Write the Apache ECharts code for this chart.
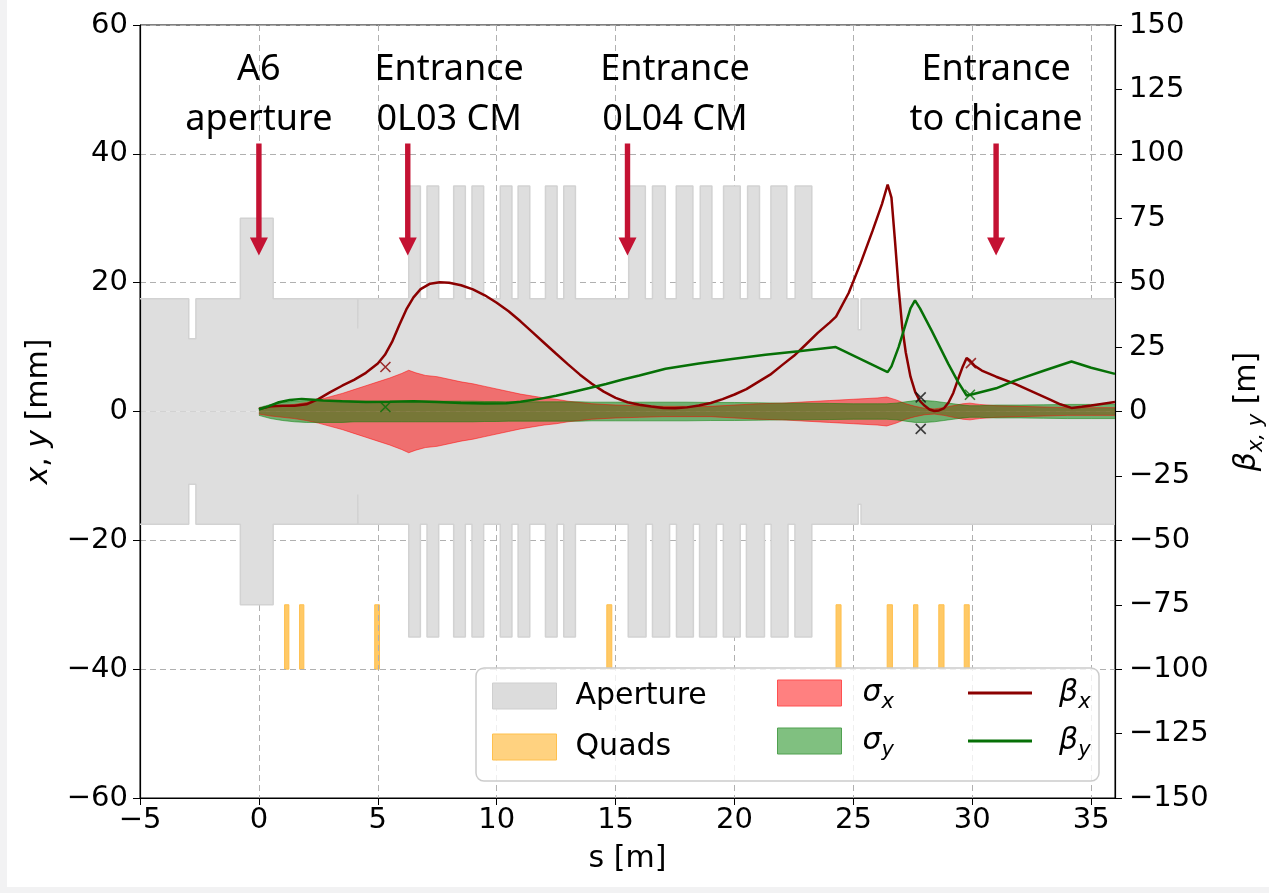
<!DOCTYPE html>
<html lang="en">
<head>
<meta charset="UTF-8">
<title>Aperture, beam size and beta functions</title>
<script src="https://cdn.jsdelivr.net/npm/echarts@6/dist/echarts.min.js"></script>
<style>
  html, body { margin: 0; padding: 0; background: #fff; }
  #main {
    width: 1269px; height: 893px;
    background: linear-gradient(to right, #f2f2f3 7px, transparent 7px),
                linear-gradient(to top, #f2f2f3 6px, #fff 6px);
  }
</style>
</head>
<body>
<div id="main"></div>
<script>
// ---- aperture profile (mm) ----
var apBase = 17.5;
var a6Span = [-0.78, 0.60];
var a6R = 30;
var cavR = 35;
var cm1Cells = [[6.30,6.79],[7.07,7.56],[8.19,8.68],[8.96,9.45],[10.15,10.64],[10.90,11.39],[12.05,12.54],[12.82,13.31]];
var cm2CellsTop = [[15.55,16.25],[16.55,17.09],[17.55,18.25],[18.56,19.05],[19.54,20.24],[20.55,21.05],[21.53,22.20],[22.55,23.25]];
var cm2CellsBot = [[15.53,16.28],[16.55,17.27],[17.56,18.27],[18.53,19.24],[19.53,20.24],[20.50,21.26],[21.54,22.25],[22.54,23.25]];
var notchSpans = [[-2.95,-2.65],[4.155,4.165],[25.20,25.32]];
var notchTop = [11.3, 12.9, 12.7];
var notchBot = [11.3, 12.9, 14.4];

// ---- quadrupoles ----
var quadSpans = [[1.08,1.26],[1.71,1.89],[4.87,5.07],[14.63,14.84],[24.27,24.48],[26.42,26.64],[27.53,27.71],[28.59,28.81],[29.66,29.87]];
var quadHi = -30, quadLo = -40;

// ---- beam sizes (mm) ----
var sigS = [0,0.5,1.0,1.5,2.0,2.5,3.0,3.5,4.0,4.5,5.0,5.5,6.0,6.3,6.6,7.0,7.5,8.0,8.5,9.0,9.5,10.0,10.5,11.0,11.5,12.0,12.5,13.0,13.5,14.0,15.0,16.0,17.0,18.0,19.0,20.0,21.0,22.0,23.0,24.0,25.0,26.0,26.4,26.8,27.2,27.6,28.0,28.4,28.8,29.2,29.6,29.9,30.3,31,32,33,34,35,36];
var sigX = [0.4,0.7,0.9,1.1,1.4,1.8,2.3,2.8,3.4,4.0,4.6,5.2,5.9,6.4,6.0,5.6,5.4,5.0,4.6,4.3,3.9,3.5,3.1,2.7,2.4,2.1,1.9,1.6,1.4,1.2,1.0,0.9,0.8,0.8,0.8,1.0,1.2,1.3,1.5,1.7,1.9,2.1,2.25,1.8,1.2,0.8,0.5,0.4,0.6,0.9,1.2,1.3,1.1,0.9,0.8,0.7,0.6,0.6,0.6];
var sigY = [0.6,1.1,1.4,1.6,1.7,1.7,1.7,1.7,1.6,1.6,1.6,1.6,1.6,1.6,1.6,1.6,1.6,1.6,1.6,1.6,1.55,1.55,1.5,1.5,1.5,1.5,1.5,1.5,1.5,1.45,1.45,1.45,1.45,1.45,1.4,1.4,1.35,1.3,1.3,1.25,1.2,1.2,1.2,1.3,1.5,1.7,1.7,1.6,1.4,1.2,1.0,0.9,0.9,1.0,1.0,1.05,1.1,1.1,1.1];

// ---- beta functions (m) ----
var betaXS = [0,0.5,1.0,1.5,2.0,2.5,3.0,3.5,4.0,4.5,5.0,5.3,5.6,5.9,6.2,6.5,6.8,7.2,7.6,8.0,8.5,9.0,9.5,10.0,10.5,11.0,11.5,12.0,12.5,13.0,13.5,14.0,14.5,15.0,15.5,16.0,16.5,17.0,17.5,18.0,18.5,19.0,19.5,20.0,20.5,21.0,21.5,22.0,22.5,23.0,23.5,24.0,24.27,24.8,25.3,25.8,26.2,26.44,26.6,26.75,26.9,27.05,27.2,27.4,27.6,27.8,28.0,28.2,28.4,28.6,28.8,29.0,29.2,29.4,29.6,29.76,29.9,30.1,30.4,31.0,31.8,32.5,33.2,33.7,34.17,34.6,35.0,35.5,36.0];
var betaX = [1.0,2.0,2.2,2.2,2.8,4.8,7.5,10.0,12.3,15.0,18.6,22.0,27.0,33.5,39.6,44.3,47.5,49.6,50.2,50.0,49.0,47.4,45.1,42.2,38.9,35.0,30.8,26.6,22.4,18.3,14.3,10.8,7.7,5.3,3.6,2.6,1.9,1.4,1.3,1.6,2.3,3.3,4.8,6.6,8.7,11.5,14.3,18.0,21.6,26.0,30.5,34.5,36.8,46.0,57.5,70.0,80.5,88.1,83.0,66.0,48.0,33.0,23.0,13.5,7.5,4.0,2.2,0.8,0.2,0.4,1.2,3.5,7.2,12.5,17.5,20.8,19.8,17.7,15.9,13.5,10.7,7.8,4.9,2.8,1.4,1.8,2.3,3.0,3.7];
var betaYS = [0,0.4,0.84,1.3,1.8,2.3,2.7,3.5,4.5,5.5,6.5,7.5,8.5,9.5,10.4,11.0,11.8,12.5,13.2,13.9,14.6,15.3,16.0,17.1,18.5,19.9,21.3,22.7,24.26,26.44,26.6,26.9,27.2,27.4,27.59,27.8,28.29,28.99,29.4,29.76,29.97,31.0,31.79,33.0,34.17,35.0,36.0];
var betaY = [0.8,2.0,3.6,4.5,4.9,4.6,4.3,4.0,3.7,3.8,4.0,3.7,3.3,3.1,3.2,3.8,4.9,6.1,7.6,9.1,10.7,12.4,14.0,16.6,18.6,20.4,22.0,23.4,25.0,15.3,17.5,25.0,34.0,40.0,43.1,40.0,31.4,18.5,11.5,6.2,6.6,9.0,12.0,15.8,19.4,17.0,14.6];

// ---- measured points (mm) ----
var markRed = [[5.32, 6.9], [29.94, 7.5]];
var markGreen = [[5.32, 0.7], [29.90, 2.6]];
var markBlack = [[27.83, 2.2], [27.83, -2.7]];

// ---- annotations ----
var annotS = [0, 6.26, 15.5, 31.0];
var annotTextS = [0, 8.0, 17.5, 31.0];
var annotLine1 = ['A6', 'Entrance', 'Entrance', 'Entrance'];
var annotLine2 = ['aperture', '0L03 CM', '0L04 CM', 'to chicane'];
var arrowTipY = 24.2, arrowTailY = 41.6, textY1 = 53.1, textY2 = 45.3;

var sMin = -5, sMax = 36, sStep = 5;
var yMin = -60, yMax = 60, yStep = 20;
var bMin = -150, bMax = 150, bStep = 25;

function segs(cm2, notchR) {
  var list = [[a6Span[0], a6Span[1], a6R]];
  cm1Cells.concat(cm2).forEach(function (c) { list.push([c[0], c[1], cavR]); });
  notchSpans.forEach(function (n, i) { list.push([n[0], n[1], notchR[i]]); });
  list.sort(function (a, b) { return a[0] - b[0]; });
  return list;
}
function profile(list, sign) {
  var pts = [[sMin, sign * apBase]];
  list.forEach(function (g) {
    pts.push([g[0], sign * apBase], [g[0], sign * g[2]], [g[1], sign * g[2]], [g[1], sign * apBase]);
  });
  pts.push([sMax, sign * apBase]);
  return pts;
}
function band(xs, ys, sign) {
  return xs.map(function (s, i) { return [s, sign * ys[i]]; });
}
function pairs(xs, ys) {
  return xs.map(function (s, i) { return [s, ys[i]]; });
}
function minus(v) { return String(v).replace('-', '\u2212'); }

var apTop = profile(segs(cm2CellsTop, notchTop), 1);
var apBot = profile(segs(cm2CellsBot, notchBot), -1);

var chart = echarts.init(document.getElementById('main'));
var font = 'DejaVu Sans';
var gridLine = { show: true, lineStyle: { color: '#b0b0b0', width: 1, type: [6, 4] } };
var tickLbl = { color: '#000', fontFamily: font, fontSize: 29, formatter: minus };

var apArea = { color: '#dedede', opacity: 1, origin: 0 };
var apLine = { color: '#d2d2d2', width: 1.5 };

var xCross = 'path://M0,0L10,10M10,0L0,10';
var lineIcon = 'path://M0,0H64V3H0Z';

function renderQuad(params, api) {
  var a = api.coord([api.value(0), quadHi]);
  var b = api.coord([api.value(1), quadLo]);
  return {
    type: 'rect',
    shape: { x: a[0], y: a[1], width: Math.max(b[0] - a[0], 3), height: b[1] - a[1] },
    style: { fill: '#ffc966', stroke: '#ffbf4d', lineWidth: 1 }
  };
}

function renderAnnot(params, api) {
  var i = params.dataIndex;
  var tip = api.coord([api.value(0), arrowTipY]);
  var tail = api.coord([api.value(0), arrowTailY]);
  var x = tip[0], hw = 2.7, hh = 9, hl = 18;
  var p1 = api.coord([api.value(1), textY1]);
  var p2 = api.coord([api.value(1), textY2]);
  var ts = { fill: '#000', fontSize: 36, fontFamily: 'Noto Sans', align: 'center', verticalAlign: 'middle' };
  return {
    type: 'group',
    children: [
      { type: 'polygon', shape: { points: [[x - hw, tail[1]], [x + hw, tail[1]], [x + hw, tip[1] - hl], [x + hh, tip[1] - hl], [x, tip[1]], [x - hh, tip[1] - hl], [x - hw, tip[1] - hl]] },
        style: { fill: '#c41233' } },
      { type: 'text', x: p1[0], y: p1[1], style: Object.assign({ text: annotLine1[i] }, ts) },
      { type: 'text', x: p2[0], y: p2[1], style: Object.assign({ text: annotLine2[i] }, ts) }
    ]
  };
}

var rich = {
  g: { fontFamily: font, fontSize: 30, fontStyle: 'italic', lineHeight: 40, verticalAlign: 'middle' },
  s: { fontFamily: font, fontSize: 21, fontStyle: 'italic', lineHeight: 20, verticalAlign: 'bottom' },
  n: { fontFamily: font, fontSize: 30, lineHeight: 40, verticalAlign: 'middle' }
};
var legendNames = { 'σx': '{g|σ}{s|x}', 'σy': '{g|σ}{s|y}', 'βx': '{g|β}{s|x}', 'βy': '{g|β}{s|y}' };
function legendBase(left, top, gap, data, pad) {
  return {
    data: data, left: left, top: top, orient: 'vertical', itemWidth: 64, itemHeight: 26, itemGap: gap,
    selectedMode: false, z: 6,
    textStyle: { color: '#000', fontFamily: font, fontSize: 30, lineHeight: 26, padding: [0, 0, 0, pad], rich: rich },
    formatter: function (n) { return legendNames[n] || n; }
  };
}

var option = {
  animation: false,
  backgroundColor: 'transparent',
  grid: { left: 140, right: 154, top: 25, bottom: 95, containLabel: false, outerBoundsMode: 'none',
    show: true, borderColor: '#000', borderWidth: 1, backgroundColor: 'transparent' },
  graphic: [{
    type: 'rect', z: 5,
    shape: { x: 476, y: 668, width: 623, height: 113, r: 8 },
    style: { fill: 'rgba(255,255,255,0.8)', stroke: '#cccccc', lineWidth: 1.5 }
  }],
  legend: [
    legendBase(487, 676, 21, [
      { name: 'Aperture', icon: 'rect', itemStyle: { color: '#dcdcdc', borderColor: '#cfcfcf', borderWidth: 1 } },
      { name: 'Quads', icon: 'rect', itemStyle: { color: '#ffd280', borderColor: '#ffc04d', borderWidth: 1 } }
    ], 14),
    legendBase(772, 668, 8, [
      { name: 'σx', icon: 'rect', itemStyle: { color: '#ff8080', borderColor: '#ff5050', borderWidth: 1 } },
      { name: 'σy', icon: 'rect', itemStyle: { color: '#80c080', borderColor: '#50a050', borderWidth: 1 } }
    ], 16),
    legendBase(963, 668, 8, [
      { name: 'βx', icon: lineIcon, itemStyle: { color: '#8b0000', borderWidth: 0 } },
      { name: 'βy', icon: lineIcon, itemStyle: { color: '#067006', borderWidth: 0 } }
    ], 22)
  ],
  xAxis: {
    type: 'value', min: sMin, max: sMax, interval: sStep, z: 3,
    name: 's [m]', nameLocation: 'middle', nameGap: 46,
    nameTextStyle: { color: '#000', fontFamily: font, fontSize: 30 },
    axisLine: { show: true, onZero: false, lineStyle: { color: '#000', width: 1.2 } },
    axisTick: { show: true, length: 7, lineStyle: { color: '#000' } },
    axisLabel: Object.assign({ margin: 8, showMaxLabel: false }, tickLbl),
    splitLine: gridLine
  },
  yAxis: [{
    type: 'value', min: yMin, max: yMax, interval: yStep, z: 3, position: 'left',
    name: '{g|x}{n|, }{g|y}{n| [mm]}', nameLocation: 'middle', nameGap: 81, nameRotate: 90,
    nameTextStyle: { color: '#000', fontFamily: font, fontSize: 30, rich: rich },
    axisLine: { show: true, onZero: false, lineStyle: { color: '#000', width: 1.2 } },
    axisTick: { show: true, length: 7, lineStyle: { color: '#000' } },
    axisLabel: Object.assign({ margin: 12 }, tickLbl),
    splitLine: gridLine
  }, {
    type: 'value', min: bMin, max: bMax, interval: bStep, z: 3, position: 'right',
    name: '{g|β}{s|x, y}{n| [m]}', nameLocation: 'middle', nameGap: 112, nameRotate: 90,
    nameTextStyle: { color: '#000', fontFamily: font, fontSize: 30, rich: rich },
    axisLine: { show: true, onZero: false, lineStyle: { color: '#000', width: 1.2 } },
    axisTick: { show: true, length: 7, lineStyle: { color: '#000' } },
    axisLabel: Object.assign({ margin: 14 }, tickLbl),
    splitLine: { show: false }
  }],
  series: [
    { name: 'Aperture', type: 'line', data: apTop, symbol: 'none', silent: true, lineStyle: apLine, areaStyle: apArea, itemStyle: { color: '#dcdcdc' } },
    { name: 'Aperture', type: 'line', data: apBot, symbol: 'none', silent: true, lineStyle: apLine, areaStyle: apArea, itemStyle: { color: '#dcdcdc' } },
    { name: 'Quads', type: 'custom', data: quadSpans, renderItem: renderQuad, silent: true, itemStyle: { color: '#ffc966' } },
    { name: 'σx', type: 'line', data: band(sigS, sigX, 1), symbol: 'none', silent: true,
      lineStyle: { color: 'rgba(255,0,0,0.5)', width: 1 }, areaStyle: { color: 'rgba(255,0,0,0.5)', opacity: 1, origin: 0 }, itemStyle: { color: '#ff8080' } },
    { name: 'σx', type: 'line', data: band(sigS, sigX, -1), symbol: 'none', silent: true,
      lineStyle: { color: 'rgba(255,0,0,0.5)', width: 1 }, areaStyle: { color: 'rgba(255,0,0,0.5)', opacity: 1, origin: 0 }, itemStyle: { color: '#ff8080' } },
    { name: 'σy', type: 'line', data: band(sigS, sigY, 1), symbol: 'none', silent: true,
      lineStyle: { color: 'rgba(0,128,0,0.5)', width: 1 }, areaStyle: { color: 'rgba(0,128,0,0.5)', opacity: 1, origin: 0 }, itemStyle: { color: '#80c080' } },
    { name: 'σy', type: 'line', data: band(sigS, sigY, -1), symbol: 'none', silent: true,
      lineStyle: { color: 'rgba(0,128,0,0.5)', width: 1 }, areaStyle: { color: 'rgba(0,128,0,0.5)', opacity: 1, origin: 0 }, itemStyle: { color: '#80c080' } },
    { name: 'βx', type: 'line', yAxisIndex: 1, z: 4, data: pairs(betaXS, betaX), symbol: 'none', silent: true,
      lineStyle: { color: '#8b0000', width: 2.5 }, itemStyle: { color: '#8b0000' } },
    { name: 'βy', type: 'line', yAxisIndex: 1, z: 4, data: pairs(betaYS, betaY), symbol: 'none', silent: true,
      lineStyle: { color: '#067006', width: 2.5 }, itemStyle: { color: '#067006' } },
    { name: 'mx', type: 'scatter', z: 4, data: markRed, symbol: xCross, symbolSize: 10, silent: true,
      itemStyle: { color: 'transparent', borderColor: '#8b0000', borderWidth: 1.6 } },
    { name: 'my', type: 'scatter', z: 4, data: markGreen, symbol: xCross, symbolSize: 10, silent: true,
      itemStyle: { color: 'transparent', borderColor: '#067006', borderWidth: 1.6 } },
    { name: 'mb', type: 'scatter', z: 4, data: markBlack, symbol: xCross, symbolSize: 10, silent: true,
      itemStyle: { color: 'transparent', borderColor: '#111', borderWidth: 1.6 } },
    { name: 'annot', type: 'custom', z: 4, clip: false, silent: true,
      data: annotS.map(function (s, i) { return [s, annotTextS[i]]; }), renderItem: renderAnnot }
  ]
};
chart.setOption(option);
</script>
</body>
</html>
